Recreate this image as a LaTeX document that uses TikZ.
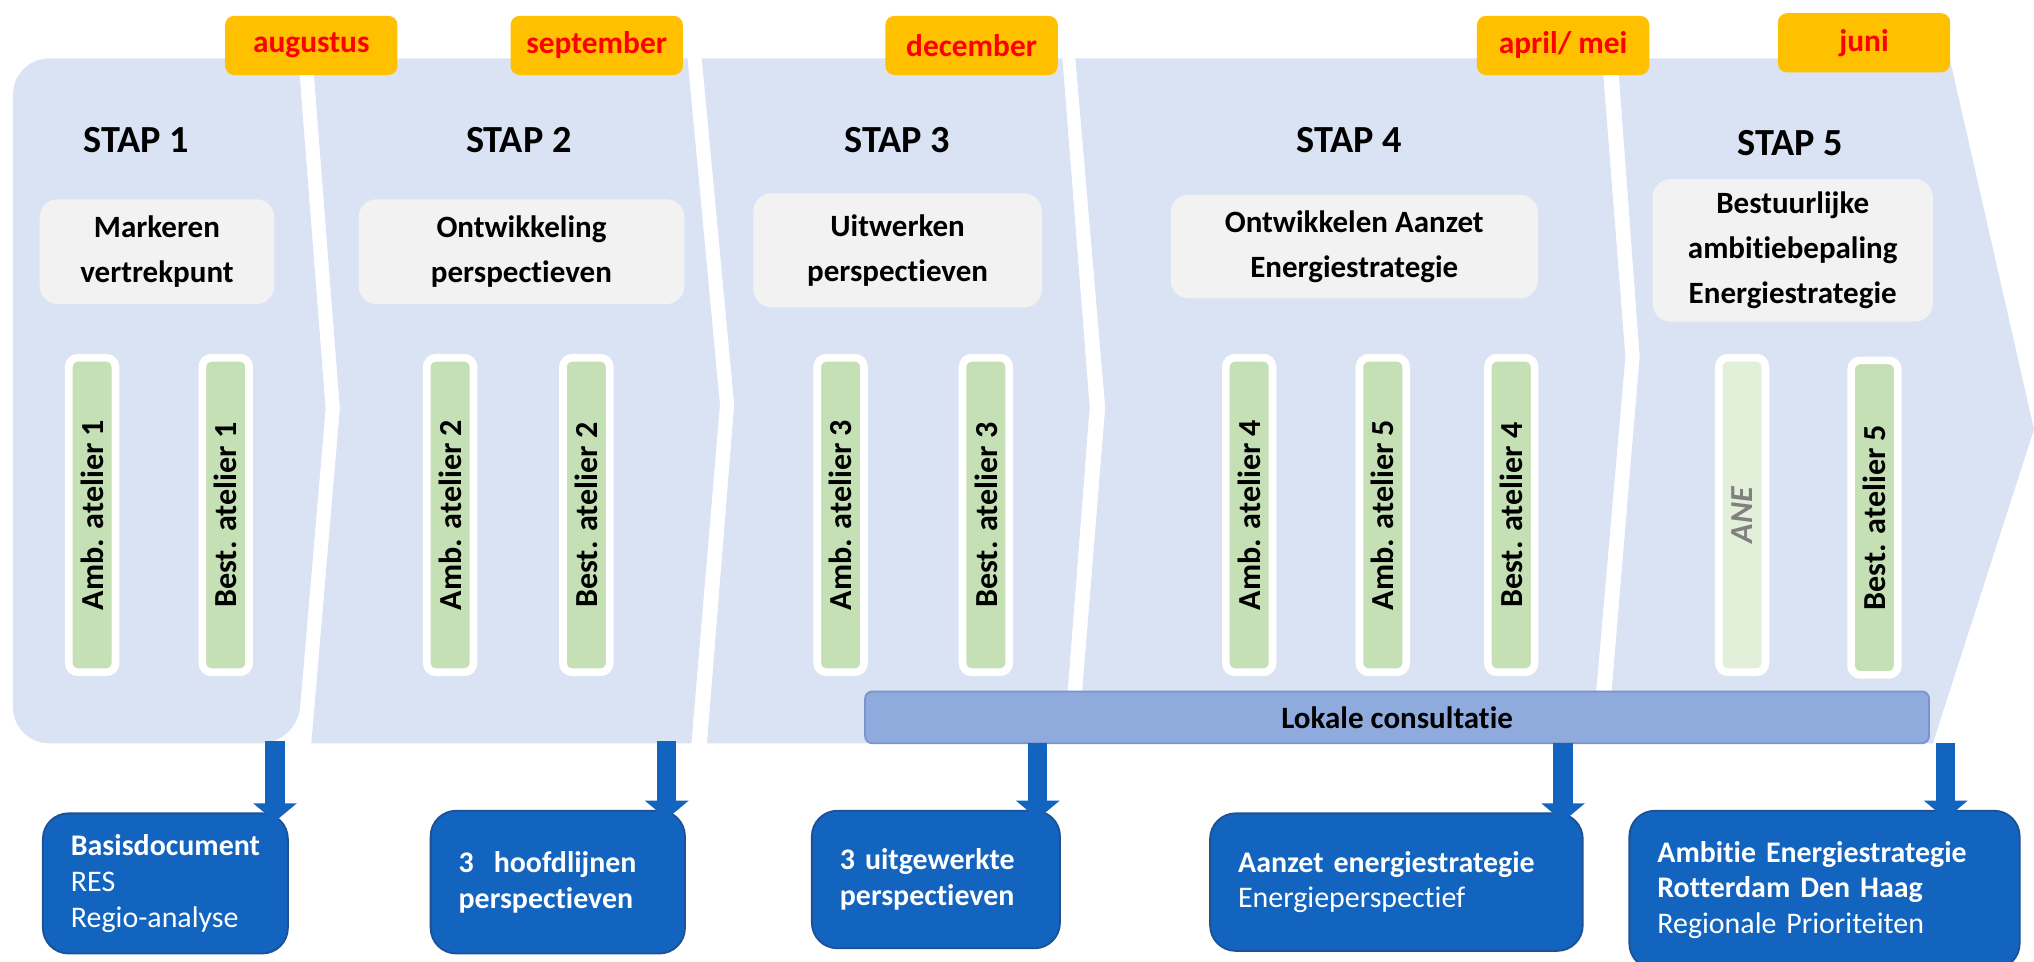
\documentclass[tikz,border=0pt]{standalone}
\usepackage{fontspec}
\setmainfont{Carlito}[Ligatures=NoCommon]
\usetikzlibrary{arrows.meta}

\definecolor{chevron}{RGB}{218,227,243}
\definecolor{datum}{RGB}{255,192,0}
\definecolor{grijs}{RGB}{242,242,242}
\definecolor{groen}{RGB}{197,224,180}
\definecolor{lichtgroen}{RGB}{226,240,217}
\definecolor{consultblauw}{RGB}{143,170,220}
\definecolor{consultrand}{RGB}{120,150,205}
\definecolor{uitkomst}{RGB}{18,100,190}
\definecolor{uitkomstrand}{RGB}{30,80,150}

\begin{document}
\begin{tikzpicture}[x=0.0125cm,y=-0.0125cm,
  fase/.style={fill=chevron},
  maand/.style={fill=datum,rounded corners=2.5pt,minimum width=1.66cm,minimum height=0.57cm,inner sep=0pt,text=red,font=\fontsize{8.6}{10}\selectfont\bfseries},
  stap/.style={font=\fontsize{10.5}{12}\selectfont\bfseries},
  taak/.style={fill=grijs,rounded corners=5pt,align=center,inner sep=0pt,font=\fontsize{8.5}{12.4}\selectfont\bfseries},
  atelier/.style={rotate=90,fill=groen,draw=white,line width=2.1pt,rounded corners=2.5pt,minimum width=3.03cm,minimum height=0.45cm,inner sep=0pt,font=\fontsize{8.8}{10}\selectfont\bfseries},
  consult/.style={fill=consultblauw,draw=consultrand,line width=0.5pt,rounded corners=2pt,minimum width=10.25cm,minimum height=0.5cm,font=\fontsize{8.5}{10}\selectfont\bfseries},
  product/.style={fill=uitkomst,draw=uitkomstrand,line width=0.5pt,rounded corners=7pt,text=white,align=left,inner xsep=0.27cm,inner ysep=0pt,font=\fontsize{8.2}{9.8}\selectfont},
  levering/.style={draw=uitkomst,line width=5.3pt,-{Triangle[width=11.7pt,length=5pt]}}
]
\useasboundingbox (0,0) rectangle (1568,741);

% de vijf fasen
\fill[fase] (230,45) [rounded corners=0.35cm] -- (10,45) -- (10,573) -- (229,573) [sharp corners] -- (251,315) -- cycle;
\fill[fase] (241,45) -- (530,45) -- (555,312) -- (533,573) -- (240,573) -- (262,315) -- cycle;
\fill[fase] (541,45) -- (819,45) -- (840,314) -- (820,573) -- (545,573) -- (566,312) -- cycle;
\fill[fase] (829,45) -- (1235,45) -- (1253,275) -- (1227,573) -- (831,573) -- (852,314) -- cycle;
\fill[fase] (1247,45) -- (1503,45) -- (1568,331) -- (1490,573) -- (1239,573) -- (1264,275) -- cycle;

% maanden
\node[maand] (aug) at (240,35) {augustus};
\node[maand] (sep) at (460,35) {september};
\node[maand] (dec) at (749,35) {december};
\node[maand] (apr) at (1205,35) {april/ mei};
\node[maand] (jun) at (1437,33) {juni};

% stappen
\node[stap] (s1) at (105,108) {STAP 1};
\node[stap] (s2) at (400,108) {STAP 2};
\node[stap] (s3) at (692,108) {STAP 3};
\node[stap] (s4) at (1040,108) {STAP 4};
\node[stap] (s5) at (1380,110) {STAP 5};

\node[taak,minimum width=2.26cm,minimum height=1.01cm] (t1) at (121,194) {Markeren\\vertrekpunt};
\node[taak,minimum width=3.14cm,minimum height=1.01cm] (t2) at (402,194) {Ontwikkeling\\perspectieven};
\node[taak,minimum width=2.78cm,minimum height=1.1cm] (t3) at (692,193) {Uitwerken\\perspectieven};
\node[taak,minimum width=3.54cm,minimum height=1.0cm] (t4) at (1044,190) {Ontwikkelen Aanzet\\Energiestrategie};
\node[taak,minimum width=2.7cm,minimum height=1.375cm] (t5) at (1382,193) {Bestuurlijke\\ambitiebepaling\\Energiestrategie};

% ateliers
\node[atelier] (amb1) at (71,397) {Amb. atelier 1};
\node[atelier] (best1) at (174,397) {Best. atelier 1};
\node[atelier] (amb2) at (347,397) {Amb. atelier 2};
\node[atelier] (best2) at (452,397) {Best. atelier 2};
\node[atelier] (amb3) at (648,397) {Amb. atelier 3};
\node[atelier] (best3) at (760,397) {Best. atelier 3};
\node[atelier] (amb4) at (963,397) {Amb. atelier 4};
\node[atelier] (amb5) at (1066,397) {Amb. atelier 5};
\node[atelier] (best4) at (1165,397) {Best. atelier 4};
\node[atelier,fill=lichtgroen,text=black!50] (ane) at (1343,397) {\itshape ANE};
\node[atelier] (best5) at (1445,399) {Best. atelier 5};

\node[consult] (lokaal) at (1077,553) {Lokale consultatie};

% producten
\node[product,minimum width=2.36cm,minimum height=1.35cm,text width=1.82cm] (o1) at (127.5,681)
  {\textbf{Basisdocument}\\RES\\Regio-analyse};
\node[product,minimum width=2.45cm,minimum height=1.375cm,text width=1.91cm] (o2) at (430,680)
  {\textbf{3\ \ hoofdlijnen}\\\textbf{perspectieven}};
\node[product,minimum width=2.39cm,minimum height=1.325cm,text width=1.85cm] (o3) at (721.5,678)
  {\textbf{3 uitgewerkte}\\\textbf{perspectieven}};
\node[product,minimum width=3.59cm,minimum height=1.325cm,text width=3.05cm] (o4) at (1076.5,680)
  {\textbf{Aanzet energiestrategie}\\Energieperspectief};
\node[product,minimum width=3.76cm,minimum height=1.525cm,text width=3.22cm] (o5) at (1406.5,686)
  {\textbf{Ambitie Energiestrategie}\\\textbf{Rotterdam Den Haag}\\Regionale Prioriteiten};

\coordinate (a1) at (212,571);
\coordinate (a2) at (514,571);
\coordinate (a3) at (800,573);
\coordinate (a4) at (1205,573);
\coordinate (a5) at (1500,573);
\draw[levering] (a1) -- ([yshift=-2.5pt]a1 |- o1.north);
\draw[levering] (a2) -- ([yshift=-2.5pt]a2 |- o2.north);
\draw[levering] (a3) -- ([yshift=-2.5pt]a3 |- o3.north);
\draw[levering] (a4) -- ([yshift=-2.5pt]a4 |- o4.north);
\draw[levering] (a5) -- ([yshift=-2.5pt]a5 |- o5.north);
\end{tikzpicture}
\end{document}
